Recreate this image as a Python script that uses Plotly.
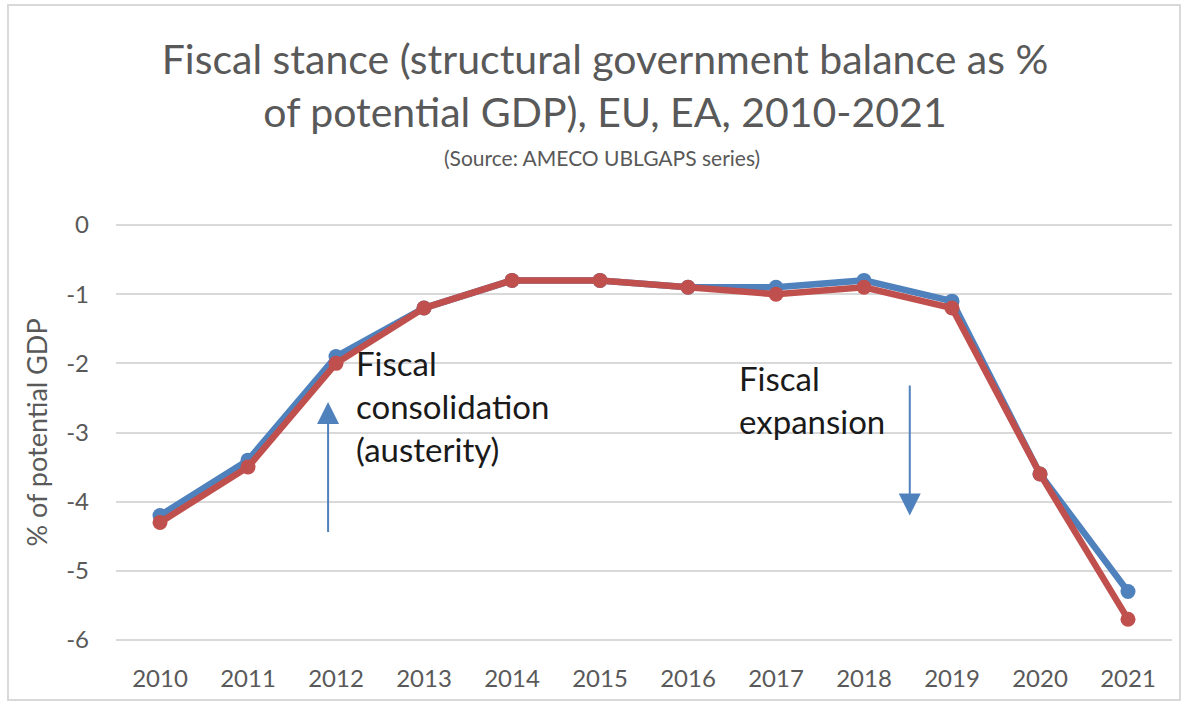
import plotly.graph_objects as go

years = ["2010", "2011", "2012", "2013", "2014", "2015", "2016", "2017", "2018", "2019", "2020", "2021"]
eu = [-4.2, -3.4, -1.9, -1.2, -0.8, -0.8, -0.9, -0.9, -0.8, -1.1, -3.6, -5.3]
ea = [-4.3, -3.5, -2.0, -1.2, -0.8, -0.8, -0.9, -1.0, -0.9, -1.2, -3.6, -5.7]
y_ticks = [0, -1, -2, -3, -4, -5, -6]

BLUE = "#4F81BD"
RED = "#C0504D"
GRAY = "#595959"
FONT = "Lato"

fig = go.Figure()
fig.add_trace(go.Scatter(x=years, y=eu, name="EU", mode="lines+markers",
                         line=dict(color=BLUE, width=6.5), marker=dict(size=15, color=BLUE)))
fig.add_trace(go.Scatter(x=years, y=ea, name="EA", mode="lines+markers",
                         line=dict(color=RED, width=6.5), marker=dict(size=15, color=RED)))

fig.update_layout(
    width=1191, height=706,
    margin=dict(l=116, r=19, t=223, b=64),
    paper_bgcolor="white", plot_bgcolor="white",
    showlegend=False,
    font=dict(family=FONT, color=GRAY),
    title=dict(text="Fiscal stance (structural government balance as %<br>of potential GDP), EU, EA, 2010-2021",
               x=0.508, xanchor="center", xref="container",
               y=0.895, yanchor="middle", yref="container",
               font=dict(family=FONT, size=41, color=GRAY)),
    xaxis=dict(type="category", range=[-0.5, 11.5], showgrid=False, zeroline=False, showline=False,
               tickfont=dict(size=24, color=GRAY), ticks="", ticklabelstandoff=20),
    yaxis=dict(range=[-6.03, 0.03], tickvals=y_ticks, ticktext=[str(v) for v in y_ticks],
               showgrid=True, gridcolor="#D9D9D9", gridwidth=2, zeroline=False, showline=False,
               tickfont=dict(size=24, color=GRAY), ticks="", ticklabelstandoff=26,
               title=dict(text="% of potential GDP", font=dict(size=27, color=GRAY), standoff=10)),
)

fig.add_annotation(text="(Source: AMECO UBLGAPS series)", xref="paper", yref="paper",
                   x=(602 - 116) / 1056, y=(642 - 157) / 419, xanchor="center", yanchor="middle",
                   showarrow=False, font=dict(family=FONT, size=21, color=GRAY))

fig.add_annotation(text="Fiscal<br>consolidation<br>(austerity)", x=2.2, y=-1.67, xref="x", yref="y",
                   xanchor="left", yanchor="top", align="left", showarrow=False,
                   font=dict(family=FONT, size=33, color="#1a1a1a"))
fig.add_annotation(text="Fiscal<br>expansion", x=6.56, y=-1.9, xref="x", yref="y",
                   xanchor="left", yanchor="top", align="left", showarrow=False,
                   font=dict(family=FONT, size=33, color="#1a1a1a"))

fig.add_annotation(x=1.91, y=-2.56, ax=1.91, ay=-4.46, xref="x", yref="y", axref="x", ayref="y",
                   text="", showarrow=True, arrowhead=2, arrowsize=2.2, arrowwidth=2, arrowcolor=BLUE)
fig.add_annotation(x=8.52, y=-4.2, ax=8.52, ay=-2.3, xref="x", yref="y", axref="x", ayref="y",
                   text="", showarrow=True, arrowhead=2, arrowsize=2.2, arrowwidth=2, arrowcolor=BLUE)

fig.add_shape(type="rect", xref="paper", yref="paper",
              x0=(8 - 116) / 1056, x1=(1180 - 116) / 1056,
              y0=(642 - 700) / 419, y1=(642 - 5) / 419,
              line=dict(color="#D9D9D9", width=2), fillcolor="rgba(0,0,0,0)", layer="below")

fig.write_html("out.html")
